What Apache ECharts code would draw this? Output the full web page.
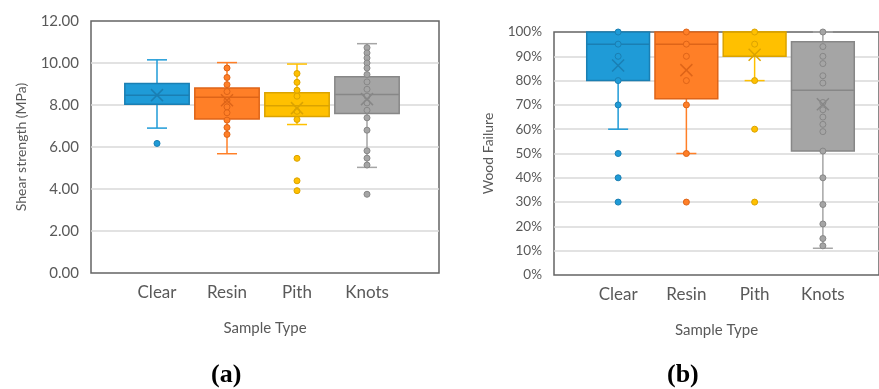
<!DOCTYPE html>
<html>
<head>
<meta charset="utf-8">
<script src="https://cdn.jsdelivr.net/npm/echarts@6/dist/echarts.min.js"></script>
<style>
  html, body { margin: 0; padding: 0; background: #ffffff; }
  #chart { width: 879px; height: 389px; }
</style>
</head>
<body>
<div id="chart"></div>
<script>
// Sample types shown on both panels
const categories = ['Clear', 'Resin', 'Pith', 'Knots'];

// (a) Shear strength, MPa — box stats per sample type: [min, Q1, median, Q3, max]
const shearBox = [
  [6.90, 8.03, 8.46, 9.02, 10.15],
  [5.68, 7.33, 8.37, 8.81, 10.02],
  [7.07, 7.45, 7.96, 8.58, 9.95],
  [5.03, 7.60, 8.50, 9.34, 10.92]
];
const shearMean = [8.47, 8.23, 7.85, 8.28];
const shearPoints = [
  [6.17],
  [9.76, 9.31, 8.97, 8.64, 8.23, 7.91, 7.63, 7.28, 6.93, 6.60],
  [9.50, 9.08, 8.70, 8.42, 7.70, 7.31, 5.46, 4.39, 3.92],
  [10.73, 10.48, 10.24, 10.00, 9.76, 9.45, 9.10, 8.75, 8.42, 8.10, 7.75, 7.39, 6.80, 5.82, 5.47, 5.14, 3.75]
];

// (b) Wood failure, % — box stats per sample type: [min, Q1, median, Q3, max]
const woodBox = [
  [60, 80, 95, 100, 100],
  [50, 72.5, 95, 100, 100],
  [80, 90, 100, 100, 100],
  [11, 51, 76, 96, 100]
];
const woodMean = [86.2, 84.3, 90.6, 70.3];
const woodPoints = [
  [100, 95, 90, 80, 70, 50, 40, 30],
  [100, 95, 90, 80, 70, 50, 30],
  [100, 95, 80, 60, 30],
  [100, 94, 90, 87, 82, 79, 71, 68, 65, 62, 59, 51, 40, 29, 21, 15, 12]
];

// Fill / outline colour per sample type
const fills = ['#1F9BD7', '#FF7F27', '#FFC000', '#A5A5A5'];
const edges = ['#1A7FB3', '#DE6418', '#DBA300', '#878787'];

const FONT = 'Lato';
const TEXT = '#595959';
const GRIDLINE = '#D9D9D9';
const FRAME = '#646464';

function boxData(stats, means) {
  return stats.map((s, i) => [i].concat(s, [means[i]]));
}

// Box, whiskers with short caps, and median line
function renderBox(params, api) {
  const i = api.value(0);
  const mn = api.value(1), q1 = api.value(2), md = api.value(3), q3 = api.value(4), mx = api.value(5);
  const band = api.size([1, 0])[0];
  const half = band * 0.46;
  const cap = 10;
  const pMin = api.coord([i, mn]), pQ1 = api.coord([i, q1]), pMd = api.coord([i, md]);
  const pQ3 = api.coord([i, q3]), pMax = api.coord([i, mx]);
  const cx = pMd[0];
  const wStyle = { stroke: fills[i], lineWidth: 1.5 };
  const children = [];
  if (mn < q1) {
    children.push({ type: 'line', shape: { x1: cx, y1: pQ1[1], x2: cx, y2: pMin[1] }, style: wStyle });
    children.push({ type: 'line', shape: { x1: cx - cap, y1: pMin[1], x2: cx + cap, y2: pMin[1] }, style: wStyle });
  }
  if (mx > q3) {
    children.push({ type: 'line', shape: { x1: cx, y1: pQ3[1], x2: cx, y2: pMax[1] }, style: wStyle });
    children.push({ type: 'line', shape: { x1: cx - cap, y1: pMax[1], x2: cx + cap, y2: pMax[1] }, style: wStyle });
  }
  children.push({
    type: 'rect',
    shape: { x: cx - half, y: pQ3[1], width: half * 2, height: pQ1[1] - pQ3[1] },
    style: { fill: fills[i], stroke: edges[i], lineWidth: 1.5 }
  });
  children.push({
    type: 'line',
    shape: { x1: cx - half, y1: pMd[1], x2: cx + half, y2: pMd[1] },
    style: { stroke: edges[i], lineWidth: 1.5 }
  });
  return { type: 'group', children };
}

// Mean marker drawn as an "X"
function renderMean(params, api) {
  const i = api.value(0);
  const p = api.coord([i, api.value(6)]);
  const s = 6;
  const st = { stroke: edges[i], lineWidth: 1.5 };
  return {
    type: 'group',
    children: [
      { type: 'line', shape: { x1: p[0] - s, y1: p[1] - s, x2: p[0] + s, y2: p[1] + s }, style: st },
      { type: 'line', shape: { x1: p[0] - s, y1: p[1] + s, x2: p[0] + s, y2: p[1] - s }, style: st }
    ]
  };
}

function valueAxis(gridIndex, min, max, interval, formatter, name, nameGap, fontSize) {
  return {
    type: 'value', gridIndex, min, max, interval,
    name, nameLocation: 'middle', nameGap,
    nameTextStyle: { color: TEXT, fontFamily: FONT, fontSize: 14 },
    axisLine: { show: false },
    axisTick: { show: false },
    axisLabel: { color: TEXT, fontFamily: FONT, fontSize, margin: 12, formatter },
    splitLine: { show: true, showMinLine: false, showMaxLine: false, lineStyle: { color: GRIDLINE, width: 1.5 } }
  };
}
function hiddenValueAxis(gridIndex, min, max) {
  return { type: 'value', gridIndex, min, max, show: false };
}
function frameXAxis(gridIndex) {
  return {
    type: 'category', gridIndex, data: categories, show: true,
    name: 'Sample Type', nameLocation: 'middle', nameGap: 48,
    nameTextStyle: { color: TEXT, fontFamily: FONT, fontSize: 15 },
    axisLine: { show: false }, axisTick: { show: false }, axisLabel: { show: false },
    splitLine: { show: false }
  };
}
function catXAxis(gridIndex) {
  return {
    type: 'category', gridIndex, data: categories,
    axisLine: { show: false }, axisTick: { show: false },
    axisLabel: { color: TEXT, fontFamily: FONT, fontSize: 17, margin: 11 },
    splitLine: { show: false }
  };
}

function panelSeries(xi, yi, stats, means, points) {
  const data = boxData(stats, means);
  const series = [
    { type: 'custom', xAxisIndex: xi, yAxisIndex: yi, renderItem: renderBox, data, clip: false, z: 2 }
  ];
  // one scatter per sample type for its individual measurements
  points.forEach((vals, i) => {
    series.push({
      type: 'scatter', xAxisIndex: xi, yAxisIndex: yi, symbolSize: 6, z: 3,
      data: vals.map(v => [i, v]),
      itemStyle: { color: fills[i], borderColor: edges[i], borderWidth: 1, opacity: 1 }
    });
  });
  series.push({ type: 'custom', xAxisIndex: xi, yAxisIndex: yi, renderItem: renderMean, data, clip: false, z: 4 });
  return series;
}

const chart = echarts.init(document.getElementById('chart'), null, { renderer: 'canvas' });
chart.setOption({
  animation: false,
  backgroundColor: '#ffffff',
  grid: [
    // (a) frame + value axis
    { left: 91, top: 21, width: 348, height: 252, show: true, borderColor: FRAME, borderWidth: 1.5, backgroundColor: 'transparent' },
    // (a) category band
    { left: 122, top: 21, width: 280, height: 252 },
    // (b) frame + value axis
    { left: 554, top: 32, width: 338, height: 243, show: true, borderColor: FRAME, borderWidth: 1.5, backgroundColor: 'transparent' },
    // (b) category band
    { left: 584, top: 32, width: 273, height: 243 }
  ],
  xAxis: [frameXAxis(0), catXAxis(1), frameXAxis(2), catXAxis(3)],
  yAxis: [
    valueAxis(0, 0, 12, 2, v => v.toFixed(2), 'Shear strength (MPa)', 63, 15),
    hiddenValueAxis(1, 0, 12),
    valueAxis(2, 0, 100, 10, v => v + '%', 'Wood Failure', 59, 13.5),
    hiddenValueAxis(3, 0, 100)
  ],
  graphic: [
    { type: 'text', left: 211, top: 362, style: { text: '(a)', font: 'bold 26px "Liberation Serif"', fill: '#000000' } },
    { type: 'text', left: 667, top: 362, style: { text: '(b)', font: 'bold 26px "Liberation Serif"', fill: '#000000' } }
  ],
  series: [].concat(
    panelSeries(1, 1, shearBox, shearMean, shearPoints),
    panelSeries(3, 3, woodBox, woodMean, woodPoints)
  )
});
</script>
</body>
</html>
